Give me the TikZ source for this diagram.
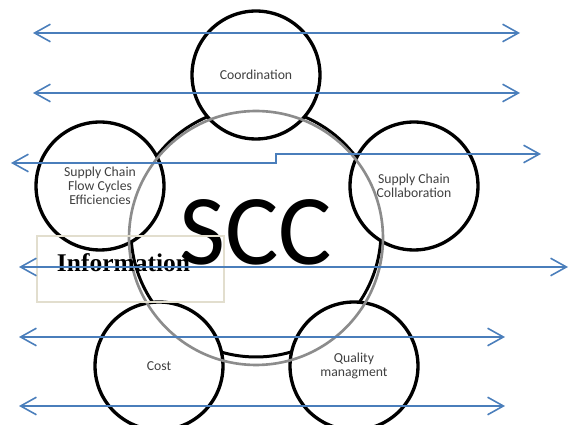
\documentclass[tikz,border=0pt]{standalone}
\usepackage{fontspec}
\setmainfont{Liberation Serif}
\setsansfont{Carlito}
\usepackage{xcolor}
\usetikzlibrary{arrows.meta, positioning}

\definecolor{linkblue}{RGB}{74,126,187}
\definecolor{boxtan}{RGB}{226,222,206}
\definecolor{ringgray}{RGB}{140,140,140}

\tikzset{
  ring/.style={circle, draw=black, line width=1.9pt, fill=white, minimum size=2.56cm, inner sep=0pt,
    align=center, text=black!75, font=\sffamily\fontsize{7.8}{8.1}\selectfont},
  link/.style={linkblue, line width=0.9pt, {Straight Barb[length=9pt,width=10pt]}-{Straight Barb[length=9pt,width=10pt]}}
}

\begin{document}
\begin{tikzpicture}[x=0.02cm, y=-0.02cm]
\useasboundingbox (0,0) rectangle (569,425);

% Core ring
\node[circle, draw=black, line width=1.7pt, minimum size=5cm, inner sep=0pt,
  font=\sffamily\fontsize{57}{60}\selectfont] (scc) at (256,232) {SCC};

% Factors
\node[ring] (coord) at (256,75) {Coordination};
\node[ring] (flow) at (100,186) {Supply Chain\\Flow Cycles\\Efficiencies};
\node[ring] (collab) at (414,186) {Supply Chain\\Collaboration};
\node[ring] (cost) at (159,366) {Cost};
\node[ring] (quality) at (354,366) {Quality\\managment};

% Gray ring on top
\draw[ringgray, line width=1.5pt] (256,238) circle[radius=2.54cm];

% Information box
\node[draw=boxtan, line width=0.7pt, minimum width=3.74cm, minimum height=1.32cm, inner sep=0pt] (infobox) at (130.5,269) {};
\node[font=\bfseries\fontsize{14.5}{16}\selectfont, inner sep=0pt, anchor=base] (info) at (123.5,272) {Information};

% Flows
\coordinate (l1) at (33,33);   \coordinate (r1) at (520,33);
\coordinate (l2) at (33,93);   \coordinate (r2) at (520,93);
\coordinate (l3) at (11,163);  \coordinate (r3) at (541,154);
\coordinate (l4) at (19,267);  \coordinate (r4) at (568,267);
\coordinate (l5) at (19,337);  \coordinate (r5) at (505,337);
\coordinate (l6) at (19,406);  \coordinate (r6) at (505,406);
\draw[link] (l1) -- (r1);
\draw[link] (l2) -- (r2);
\draw[link] (l3) -- (276,163) -- (276,154) -- (r3);
\draw[link] (l4) -- (r4);
\draw[link] (l5) -- (r5);
\draw[link] (l6) -- (r6);
\end{tikzpicture}
\end{document}
